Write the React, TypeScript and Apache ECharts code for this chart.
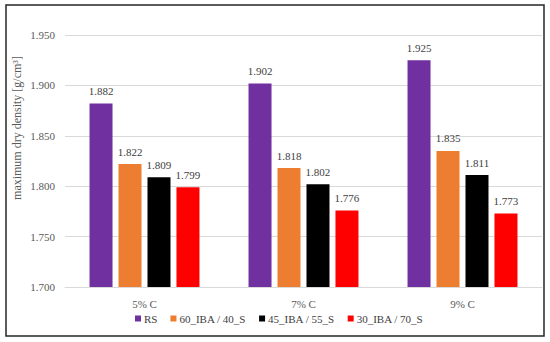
import React, { useEffect, useRef } from "react";
import * as echarts from "echarts";

const categories = ["5% C", "7% C", "9% C"];
const seriesNames = ["RS", "60_IBA / 40_S", "45_IBA / 55_S", "30_IBA / 70_S"];
const rsValues = [1.882, 1.902, 1.925];
const iba60Values = [1.822, 1.818, 1.835];
const iba45Values = [1.809, 1.802, 1.811];
const iba30Values = [1.799, 1.776, 1.773];
const colors = ["#7030A0", "#ED7D31", "#000000", "#FF0000"];
const yTitle = "maximum dry density [g/cm³]";

const FONT = "Liberation Serif";

export default function App() {
  const ref = useRef<HTMLDivElement>(null);
  useEffect(() => {
    if (!ref.current) return;
    const chart = echarts.init(ref.current, null, { renderer: "svg" });
    const data = [rsValues, iba60Values, iba45Values, iba30Values];
    chart.setOption({
      animation: false,
      backgroundColor: "#ffffff",
      textStyle: { fontFamily: FONT },
      graphic: [
        {
          type: "rect",
          shape: { x: 6, y: 5, width: 538, height: 331 },
          style: { fill: "none", stroke: "#262626", lineWidth: 1.5 },
          silent: true,
        },
        {
          type: "text",
          x: 17,
          y: 128,
          rotation: Math.PI / 2,
          style: {
            text: yTitle,
            fontFamily: FONT,
            fontSize: 12,
            fill: "#595959",
            align: "center",
            verticalAlign: "middle",
          },
          silent: true,
        },
      ],
      grid: { left: 65, right: 8, top: 35, bottom: 55 },
      legend: {
        data: seriesNames,
        bottom: 13,
        left: 130,
        itemWidth: 6,
        itemHeight: 6,
        itemGap: 13,
        icon: "rect",
        textStyle: { fontFamily: FONT, fontSize: 11, color: "#404040", padding: [0, 0, 0, -2] },
      },
      xAxis: {
        type: "category",
        data: categories,
        axisLine: { lineStyle: { color: "#D9D9D9" } },
        axisTick: { show: false },
        axisLabel: { fontFamily: FONT, fontSize: 11, color: "#595959", margin: 11 },
      },
      yAxis: {
        type: "value",
        min: 1.7,
        max: 1.95,
        interval: 0.05,
        axisLabel: {
          fontFamily: FONT,
          fontSize: 11,
          color: "#595959",
          margin: 10,
          formatter: (v: number) => v.toFixed(3),
        },
        splitLine: { lineStyle: { color: "#D9D9D9" } },
        axisLine: { show: false },
        axisTick: { show: false },
      },
      series: seriesNames.map((name, i) => ({
        name,
        type: "bar",
        data: data[i],
        barWidth: 23,
        barGap: "26%",
        itemStyle: { color: colors[i] },
        label: {
          show: true,
          position: "top",
          distance: 7,
          fontFamily: FONT,
          fontSize: 11,
          color: "#404040",
          formatter: (p: any) => Number(p.value).toFixed(3),
        },
      })),
    });
    return () => chart.dispose();
  }, []);
  return (
    <div
      ref={ref}
      style={{ position: "fixed", left: 0, top: 0, width: 550, height: 342 }}
    />
  );
}
